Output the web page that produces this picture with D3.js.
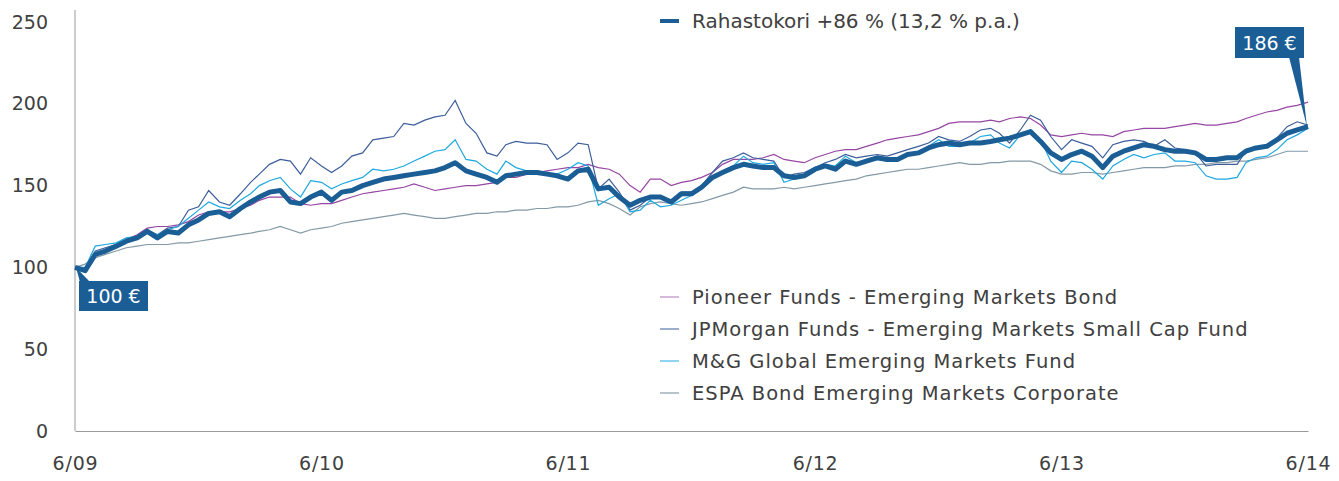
<!DOCTYPE html>
<html>
<head>
<meta charset="utf-8">
<script src="https://cdn.jsdelivr.net/npm/d3@7"></script>
<style>
  body { margin: 0; background: #fff; }
  svg { display: block; font-family: "DejaVu Sans", sans-serif; }
</style>
</head>
<body>
<div id="chart"></div>
<script>
// half-month sample dates, 1.6.2009 - 1.6.2014
const dates = [];
d3.timeMonth.range(new Date(2009, 5, 1), new Date(2014, 5, 1)).forEach(function (m) {
  dates.push(m, new Date(m.getFullYear(), m.getMonth(), 16));
});
dates.push(new Date(2014, 5, 1));

const yearTicks = [2009, 2010, 2011, 2012, 2013, 2014].map(y => new Date(y, 5, 1));
const yTicks = [0, 50, 100, 150, 200, 250];

const rahastokori = [100,98,108,110,113,116,118,122,118,122,121,126,129,133,134,131,136,140,143,146,147,140,139,143,146,141,146,147,150,152,154,155,156,157,158,159,161,164,159,157,155,152,156,157,158,158,157,156,154,159,160,148,149,143,138,141,143,143,140,145,145,149,155,158,161,163,162,161,161,156,155,156,160,162,160,165,163,165,167,166,166,169,170,173,175,176,175,176,176,177,178,179,181,183,177,170,166,169,171,168,161,168,171,173,175,174,172,171,171,170,166,166,167,167,171,173,174,178,182,184,186];
const pioneer = [100,99,108,110,113,117,120,124,125,125,126,128,132,134,134,134,136,138,141,143,143,143,139,138,139,139,141,143,145,146,147,148,149,151,149,147,148,149,150,150,151,152,155,155,157,158,159,160,161,161,163,161,160,157,150,146,154,154,150,152,153,155,158,163,166,166,166,167,169,166,165,164,167,169,171,172,172,174,176,178,179,180,181,183,185,188,189,189,189,190,189,191,192,191,187,181,180,181,182,181,181,180,183,184,185,185,185,186,187,188,187,187,188,189,191,193,195,196,198,199,201];
const jpmorgan = [100,99,110,112,114,117,119,123,120,124,125,135,137,147,140,138,145,152,157,163,166,165,157,167,162,158,162,168,170,178,179,180,188,187,190,192,193,202,188,182,170,168,175,177,176,176,175,166,170,176,175,148,154,146,135,138,143,143,139,146,146,150,158,165,167,170,167,166,165,155,157,158,161,164,166,169,167,168,169,168,170,172,174,176,180,178,177,180,184,185,182,176,184,193,190,180,172,178,176,174,167,175,177,178,177,174,178,173,172,170,162,163,163,163,171,173,174,179,186,189,187];
const mg = [100,100,113,114,115,118,119,122,120,123,125,130,135,140,137,136,141,145,150,153,155,148,143,153,152,148,151,153,155,160,159,160,162,165,168,171,172,178,166,165,160,157,165,161,159,159,158,157,160,164,162,138,142,145,134,135,141,137,138,141,144,148,155,159,162,168,164,163,164,152,154,157,161,163,162,168,164,165,166,165,167,168,171,174,178,174,174,176,180,181,176,173,181,183,178,165,158,165,164,160,154,162,166,169,167,169,170,165,165,164,156,154,154,155,164,167,168,172,178,181,185];
const espa = [100,102,106,108,110,112,113,114,114,114,115,115,116,117,118,119,120,121,122,123,125,123,121,123,124,125,127,128,129,130,131,132,133,132,131,130,130,131,132,133,133,134,134,135,135,136,136,137,137,138,140,141,139,136,132,137,139,140,139,138,139,140,142,144,146,149,148,148,148,149,148,149,150,151,152,153,154,156,157,158,159,160,160,161,162,163,164,163,163,164,164,165,165,165,163,159,157,157,158,158,157,158,159,160,161,161,161,162,162,163,163,164,164,165,165,166,167,169,171,171,171];

const series = [
  { name: "ESPA Bond Emerging Markets Corporate", values: espa, color: "#8499a6", legend: "#9fb0ba" },
  { name: "Pioneer Funds - Emerging Markets Bond", values: pioneer, color: "#9646a3", legend: "#c9a2cf" },
  { name: "JPMorgan Funds - Emerging Markets Small Cap Fund", values: jpmorgan, color: "#3c5e9b", legend: "#7d95bd" },
  { name: "M&G Global Emerging Markets Fund", values: mg, color: "#1ea8e0", legend: "#6cc6ec" }
];
const legendOrder = [1, 2, 3, 0];
const MAIN = "#1a5e95";
const FONT = 19;
const TEXT = "#404040";

const width = 1339, height = 481;
const x = d3.scaleTime().domain([dates[0], dates[dates.length - 1]]).range([75, 1308]);
const y = d3.scaleLinear().domain([0, 250]).range([431, 22]);

const svg = d3.select("#chart").append("svg")
  .attr("width", width)
  .attr("height", height);

// axes
const xAxis = svg.append("g").attr("transform", "translate(0,431)")
  .call(d3.axisBottom(x).tickValues(yearTicks).tickFormat(d3.timeFormat("%-m/%y")).tickSize(0).tickPadding(26))
  .attr("font-family", null).attr("font-size", FONT);
xAxis.select(".domain").attr("stroke", "#999");
xAxis.selectAll("text").attr("fill", TEXT).attr("letter-spacing", 0.8);

const yAxis = svg.append("g").attr("transform", "translate(75,0)")
  .call(d3.axisLeft(y).tickValues(yTicks).tickSize(0).tickPadding(27))
  .attr("font-family", null).attr("font-size", FONT);
yAxis.select(".domain").attr("stroke", "#999").attr("d", "M0,431V10");
yAxis.selectAll("text").attr("fill", TEXT);

const line = d3.line()
  .x((d, i) => x(dates[i]))
  .y(d => y(d));

svg.append("g").selectAll("path")
  .data(series)
  .join("path")
  .attr("d", d => line(d.values))
  .attr("fill", "none")
  .attr("stroke", d => d.color)
  .attr("stroke-width", 1.2);

svg.append("path")
  .attr("d", line(rahastokori))
  .attr("fill", "none")
  .attr("stroke", MAIN)
  .attr("stroke-width", 5)
  .attr("stroke-linejoin", "round");

// top legend
svg.append("line").attr("x1", 660).attr("x2", 679).attr("y1", 21).attr("y2", 21)
  .attr("stroke", MAIN).attr("stroke-width", 4);
svg.append("text").attr("x", 692).attr("y", 28).attr("font-size", 20).attr("fill", TEXT)
  .text("Rahastokori +86 % (13,2 % p.a.)");

// bottom legend
const leg = svg.append("g").selectAll("g")
  .data(legendOrder.map(i => series[i]))
  .join("g")
  .attr("transform", (d, i) => "translate(0," + (297 + i * 32) + ")");
leg.append("line").attr("x1", 660).attr("x2", 679)
  .attr("stroke", d => d.legend).attr("stroke-width", 1.5);
leg.append("text").attr("x", 692).attr("y", 7).attr("font-size", 19.5).attr("fill", TEXT)
  .attr("letter-spacing", 1)
  .text(d => d.name);

// callouts
function callout(bx, by, bw, bh, pointer, label) {
  svg.append("path").attr("d", d3.line()(pointer) + "Z").attr("fill", MAIN);
  svg.append("rect").attr("x", bx).attr("y", by).attr("width", bw).attr("height", bh).attr("fill", MAIN);
  svg.append("text").attr("x", bx + bw / 2).attr("y", by + bh / 2 + 7)
    .attr("text-anchor", "middle").attr("font-size", FONT).attr("fill", "#fff").text(label);
}
const n = dates.length - 1;
callout(79, 281, 69, 30, [[x(dates[0]) + 1, y(rahastokori[0])], [80, 282], [90, 282]], "100 €");
callout(1235, 27, 69, 31, [[1289, 57], [1299, 57], [x(dates[n]) - 1, y(rahastokori[n])]], "186 €");
</script>
</body>
</html>
